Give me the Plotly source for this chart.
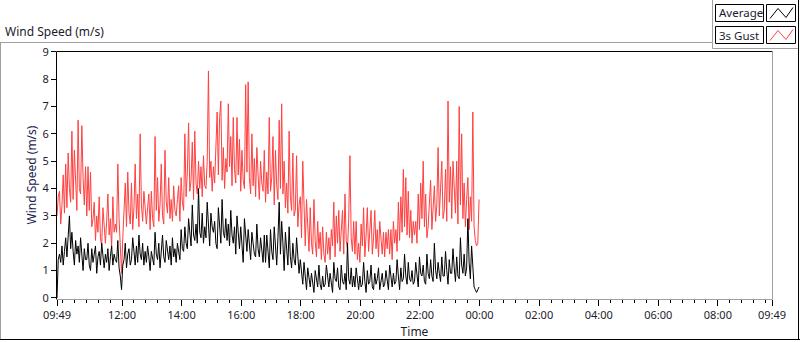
import plotly.graph_objects as go
import pandas as pd

# ---------------- data (2.5-minute samples) ----------------
start_time = "2024-01-01 09:49"
end_time = "2024-01-02 09:49"
sample_step = "150s"

gust_3s = [
    3.0, 3.7, 3.9, 2.7, 3.4, 4.5, 3.1, 4.9, 3.3, 5.3, 4.0, 3.5, 6.1, 3.6, 5.4, 4.2, 3.2, 6.5, 4.0, 3.8, 6.3, 4.4, 3.4, 4.8,
    3.0, 4.8, 3.2, 4.6, 2.6, 2.9, 3.5, 2.1, 3.0, 2.4, 3.7, 2.2, 1.9, 3.3, 2.6, 2.0, 2.8, 3.8, 2.3, 2.9, 1.8, 3.7, 2.4, 2.7,
    2.4, 4.9, 2.9, 1.8, 0.9, 2.2, 3.4, 4.2, 2.6, 4.6, 3.1, 2.7, 4.2, 2.5, 3.3, 4.9, 2.9, 3.8, 2.6, 6.0, 3.4, 2.8, 3.9, 3.1,
    2.7, 3.3, 3.8, 2.5, 3.9, 2.9, 2.6, 5.9, 3.2, 4.4, 2.8, 3.4, 4.9, 3.0, 2.7, 5.4, 3.5, 3.1, 4.4, 2.9, 3.6, 2.8, 4.1, 3.2,
    3.0, 3.6, 4.1, 2.8, 4.4, 3.5, 3.2, 6.0, 3.7, 4.6, 6.4, 3.9, 4.3, 5.7, 3.6, 6.1, 4.2, 3.8, 5.0, 4.0, 4.8, 3.7, 5.2, 4.1,
    4.0, 5.0, 8.3, 4.4, 5.0, 3.9, 4.8, 4.2, 5.6, 6.8, 4.5, 6.6, 7.2, 4.3, 5.5, 4.0, 5.1, 4.6, 7.1, 4.8, 5.9, 4.1, 6.6, 4.7,
    4.2, 6.6, 4.5, 5.8, 3.9, 5.4, 4.3, 4.0, 7.8, 4.6, 7.9, 4.4, 3.8, 6.0, 4.1, 5.1, 3.7, 5.5, 4.5, 3.6, 5.0, 4.2, 3.9, 5.4,
    3.5, 4.6, 3.8, 6.6, 3.9, 4.4, 5.9, 3.4, 5.4, 4.1, 3.6, 6.5, 4.0, 7.1, 3.8, 5.0, 3.3, 4.2, 3.1, 6.1, 3.7, 3.2, 5.3, 3.0,
    3.2, 5.2, 2.6, 3.4, 3.7, 2.2, 5.0, 2.8, 1.9, 3.6, 2.3, 1.7, 3.3, 2.0, 1.6, 3.6, 2.1, 1.5, 2.8, 1.8, 2.4, 1.4, 2.6, 1.6,
    1.3, 2.4, 1.6, 2.2, 1.4, 2.5, 1.9, 3.5, 1.5, 3.0, 2.0, 3.2, 1.7, 2.4, 3.2, 1.6, 3.8, 2.1, 1.8, 2.9, 5.2, 2.2, 1.7, 2.8,
    1.6, 2.8, 1.4, 2.0, 1.3, 2.7, 1.9, 3.3, 1.5, 2.3, 3.3, 1.7, 2.6, 3.2, 1.6, 2.2, 3.2, 1.8, 2.5, 1.5, 2.8, 2.0, 1.6, 2.4,
    1.5, 2.4, 1.8, 2.5, 1.6, 2.5, 1.4, 2.8, 2.0, 2.5, 1.7, 3.5, 2.1, 3.7, 2.4, 4.7, 2.6, 4.4, 2.3, 3.9, 2.2, 3.2, 2.0, 2.8,
    2.3, 2.8, 2.0, 3.8, 2.5, 4.2, 2.9, 5.0, 2.6, 3.8, 2.2, 2.6, 3.3, 4.3, 2.5, 3.5, 4.1, 2.8, 3.4, 5.5, 3.0, 4.0, 5.0, 2.9,
    3.2, 4.7, 2.8, 7.2, 3.5, 4.8, 2.9, 5.0, 4.1, 3.1, 5.0, 2.7, 7.0, 3.4, 6.0, 2.9, 4.2, 2.6, 3.6, 4.4, 2.5, 3.7, 2.8, 6.8,
    2.6, 2.1, 1.9, 2.0, 3.6,
]

average = [
    0.0, 1.4, 1.6, 1.3, 1.9, 1.2, 1.7, 2.2, 1.5, 2.1, 3.0, 1.8, 2.4, 1.7, 1.2, 2.1, 1.6, 1.9, 1.3, 2.2, 1.5, 1.0, 1.8, 1.4,
    1.4, 2.0, 1.2, 1.0, 1.8, 1.3, 1.6, 1.9, 0.9, 1.5, 1.7, 1.2, 2.0, 1.4, 1.1, 1.6, 1.3, 1.8, 1.0, 1.5, 1.9, 1.2, 1.6, 1.4,
    1.3, 2.1, 1.1, 0.8, 0.3, 1.2, 1.4, 2.0, 1.1, 1.6, 1.8, 1.2, 1.4, 2.2, 1.5, 1.2, 1.9, 1.3, 2.3, 1.6, 1.4, 2.0, 1.2, 1.7,
    1.3, 1.9, 1.5, 1.0, 1.7, 1.4, 1.2, 2.4, 1.6, 1.4, 2.0, 1.1, 1.7, 2.3, 1.5, 1.3, 2.1, 1.6, 1.4, 1.9, 1.2, 2.2, 1.5, 1.8,
    1.3, 2.0, 1.6, 1.4, 2.5, 1.8, 1.7, 2.6, 2.0, 1.8, 2.9, 2.2, 1.9, 3.4, 2.3, 2.1, 2.7, 2.0, 4.0, 2.4, 2.2, 3.1, 2.0, 2.6,
    2.2, 3.5, 2.4, 1.9, 3.1, 2.6, 2.4, 2.8, 2.0, 1.8, 3.3, 2.5, 2.0, 3.6, 2.4, 2.2, 2.9, 2.1, 2.7, 1.9, 3.2, 2.3, 2.0, 2.6,
    1.6, 3.0, 2.2, 1.8, 2.6, 2.0, 1.3, 2.9, 2.1, 1.7, 2.5, 1.9, 1.4, 2.4, 2.0, 1.6, 1.5, 2.7, 1.8, 1.5, 2.2, 1.7, 1.3, 2.3,
    1.3, 2.3, 1.8, 1.1, 2.5, 1.7, 1.4, 2.6, 1.9, 1.2, 2.2, 3.5, 1.6, 2.8, 2.0, 1.0, 2.4, 1.7, 1.2, 2.6, 1.5, 1.1, 2.0, 1.4,
    1.2, 2.2, 1.4, 0.9, 1.4, 0.8, 0.5, 1.3, 0.7, 0.3, 1.1, 0.6, 0.4, 0.9, 0.5, 0.2, 1.0, 0.6, 0.4, 1.2, 0.5, 0.3, 0.8, 0.4,
    0.5, 1.2, 0.7, 0.4, 0.9, 0.5, 0.2, 1.3, 0.7, 0.6, 1.1, 0.4, 0.3, 1.2, 0.6, 0.5, 0.9, 0.3, 2.0, 0.7, 0.5, 1.1, 0.4, 0.8,
    0.4, 1.1, 0.6, 0.3, 0.8, 0.4, 0.5, 1.3, 0.6, 0.2, 1.0, 0.5, 0.6, 1.2, 0.4, 0.3, 0.9, 0.5, 0.7, 1.1, 0.3, 0.6, 0.9, 0.4,
    0.5, 1.0, 0.6, 0.3, 1.2, 0.7, 0.4, 0.9, 0.5, 0.6, 1.4, 0.8, 0.3, 1.1, 0.6, 0.7, 1.6, 0.8, 0.5, 1.3, 0.7, 0.6, 1.0, 0.5,
    0.6, 1.3, 0.8, 0.4, 1.5, 0.9, 0.8, 1.2, 0.6, 0.5, 1.6, 0.9, 0.7, 1.4, 0.8, 0.6, 2.0, 1.0, 0.7, 1.3, 0.9, 0.6, 1.5, 0.8,
    0.8, 1.7, 1.0, 0.5, 1.4, 0.9, 0.9, 1.8, 1.1, 0.6, 1.5, 0.8, 0.7, 2.2, 1.2, 0.9, 1.6, 0.8, 1.1, 2.9, 1.3, 0.7, 1.9, 1.0,
    0.4, 0.3, 0.2, 0.3, 0.4,
]

series_names = ["Average", "3s Gust"]
x_tick_labels = ["09:49", "12:00", "14:00", "16:00", "18:00", "20:00", "22:00",
                 "00:00", "02:00", "04:00", "06:00", "08:00", "09:49"]
y_ticks = [0, 1, 2, 3, 4, 5, 6, 7, 8, 9]

# ---------------- build ----------------
t0 = pd.Timestamp(start_time)
t1 = pd.Timestamp(end_time)
times = pd.date_range(t0, periods=len(gust_3s), freq=sample_step)

major_vals = [t0] + [pd.Timestamp("2024-01-01 12:00") + pd.Timedelta(hours=2 * k) for k in range(11)] + [t1]
minor_vals = []
m = pd.Timestamp("2024-01-01 10:00")
while m < t1:
    if m not in major_vals:
        minor_vals.append(m)
    m += pd.Timedelta(minutes=24)

W, H = 800, 342
L, R, T, B = 57, 28, 51, 43
PW, PH = W - L - R, H - T - B


def px(x):
    return (x - L) / PW


def py(y):
    return (H - B - y) / PH


FONT = "Noto Sans"
TXT = "#1c1c2c"

fig = go.Figure()
fig.add_trace(go.Scatter(x=times, y=gust_3s, mode="lines", name=series_names[1],
                         line=dict(color="#ff4040", width=1)))
fig.add_trace(go.Scatter(x=times, y=average, mode="lines", name=series_names[0],
                         line=dict(color="#000000", width=1)))

shapes = []


def line(x0, y0, x1, y1, color, width=1):
    shapes.append(dict(type="line", xref="paper", yref="paper",
                       x0=px(x0), y0=py(y0), x1=px(x1), y1=py(y1),
                       line=dict(color=color, width=width)))


def rect(x0, y0, x1, y1, color="#000000"):
    shapes.append(dict(type="rect", xref="paper", yref="paper",
                       x0=px(x0), y0=py(y0), x1=px(x1), y1=py(y1),
                       line=dict(color=color, width=1), fillcolor="white"))


# plot frame: dark top/left, gray bottom/right
line(56.5, 51.5, 772.5, 51.5, "#000000")
line(56.5, 51.5, 56.5, 299.5, "#000000")
line(56.5, 299.5, 772.5, 299.5, "#a0a0a0")
line(772.5, 51.5, 772.5, 299.5, "#a0a0a0")

# outer panel frame
line(0, 42.5, 712.5, 42.5, "#a0a0a0")
line(0.5, 42.5, 0.5, 340, "#a0a0a0")
line(712.5, 0, 712.5, 48.5, "#a0a0a0")
line(712.5, 48.5, 799, 48.5, "#a0a0a0")
line(0, 339.5, 800, 339.5, "#000000")
line(798.5, 0, 798.5, 340, "#000000")

annotations = []
# legend boxes
legend_rows = [(series_names[0], "#000000", 4.5), (series_names[1], "#ff4040", 26.5)]
for name, col, ytop in legend_rows:
    rect(715.5, ytop, 763.5, ytop + 17, "#000000")
    rect(766.5, ytop, 795.5, ytop + 17, "#000000")
    pts = [(770, ytop + 14), (778, ytop + 4), (786, ytop + 13), (793, ytop + 3)]
    path = "M " + " L ".join(f"{px(a)},{py(b)}" for a, b in pts)
    shapes.append(dict(type="path", xref="paper", yref="paper", path=path,
                       line=dict(color=col, width=1)))
    annotations.append(dict(xref="paper", yref="paper", x=px(716.5), y=py(ytop + 8.5),
                            text=name, showarrow=False, xanchor="left", yanchor="middle",
                            font=dict(family=FONT, size=11.5, color=TXT)))

annotations.append(dict(xref="paper", yref="paper", x=px(3), y=py(32),
                        text="Wind Speed (m/s)", showarrow=False,
                        xanchor="left", yanchor="middle",
                        font=dict(family=FONT, size=12, color=TXT)))

fig.update_layout(
    width=W, height=H,
    margin=dict(l=L, r=R, t=T, b=B, pad=0, autoexpand=False),
    paper_bgcolor="white", plot_bgcolor="white",
    showlegend=False,
    shapes=shapes, annotations=annotations,
    font=dict(family=FONT, size=11, color=TXT),
    xaxis=dict(
        range=[t0, t1], tickmode="array", tickvals=major_vals, ticktext=x_tick_labels,
        ticks="outside", ticklen=6, tickwidth=1, tickcolor="#000000",
        showgrid=False, zeroline=False, showline=False, automargin=False,
        tickfont=dict(family=FONT, size=11, color=TXT),
        minor=dict(tickmode="array", tickvals=minor_vals, ticks="outside",
                   ticklen=3, tickwidth=1, tickcolor="#000000", showgrid=False),
        title=dict(text="Time", standoff=6, font=dict(family=FONT, size=12, color=TXT)),
    ),
    yaxis=dict(
        range=[-0.04, 9.03], tickmode="array", tickvals=y_ticks,
        ticks="outside", ticklen=5, tickwidth=1, tickcolor="#000000",
        showgrid=False, zeroline=False, showline=False, automargin=False,
        tickfont=dict(family=FONT, size=11, color=TXT),
        title=dict(text="Wind Speed (m/s)", standoff=3,
                   font=dict(family=FONT, size=12, color="#1c1c4c")),
    ),
)

fig.write_html("out.html", config={"displayModeBar": False},
               post_script="document.body.style.margin='0';document.body.style.padding='0';")
